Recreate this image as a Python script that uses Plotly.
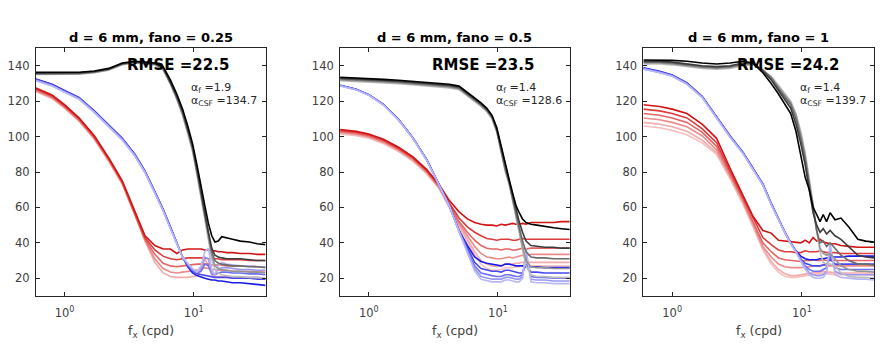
import math
import plotly.graph_objects as go

# spatial frequency grid (cpd), shared by all curves
freq = [0.6, 0.8, 1.0, 1.3, 1.7, 2.2, 2.8, 3.5, 4.2, 5.0, 5.8, 6.6, 7.4, 8.2, 9.0,
        9.8, 10.6, 11.4, 12.2, 13.0, 13.8, 14.6, 15.5, 16.5, 18, 20, 23, 27, 31, 36]

# ---- panel 1: fano = 0.25
p1_black = [136.3, 136.3, 136.2, 136.3, 137.0, 138.5, 141.5, 142.5, 142.0, 141.5, 139.5, 132.0, 124.0, 115.5, 106.0, 96.0, 84.0, 73.0, 61.0, 51.0, 44.0, 40.5, 41.0, 43.5, 43.0, 42.0, 41.0, 40.5, 39.5, 39.0]
p1_gray1 = [135.8, 135.8, 135.8, 136.0, 136.7, 138.2, 141.2, 142.2, 141.8, 141.2, 139.0, 131.0, 123.0, 114.5, 104.5, 94.5, 82.0, 70.0, 57.0, 46.0, 37.0, 33.0, 32.0, 31.5, 31.0, 31.0, 31.0, 30.5, 30.0, 30.0]
p1_gray2 = [135.5, 135.5, 135.5, 135.7, 136.5, 138.0, 141.0, 142.0, 141.5, 141.0, 138.5, 130.5, 122.0, 113.5, 103.5, 93.5, 80.5, 68.0, 55.0, 44.0, 35.0, 30.0, 28.5, 28.0, 27.5, 27.0, 27.0, 26.5, 26.5, 26.0]
p1_gray3 = [135.2, 135.2, 135.2, 135.5, 136.2, 137.8, 140.8, 141.8, 141.3, 140.8, 138.0, 130.0, 121.5, 112.5, 102.5, 92.5, 79.5, 66.5, 53.0, 42.0, 33.0, 27.0, 25.5, 25.0, 24.5, 24.0, 24.0, 23.5, 23.5, 23.0]
p1_gray4 = [135.0, 135.0, 135.0, 135.2, 136.0, 137.5, 140.5, 141.5, 141.0, 140.5, 137.5, 129.5, 121.0, 112.0, 101.5, 91.5, 78.5, 65.0, 52.0, 41.0, 31.0, 25.0, 23.0, 22.0, 21.5, 21.0, 21.0, 20.5, 20.5, 20.0]

p1_blue1 = [132.5, 129.5, 126.0, 122.0, 114.5, 106.5, 99.0, 90.0, 80.5, 69.0, 59.0, 49.0, 40.0, 32.0, 26.5, 23.0, 21.5, 20.5, 20.0, 19.5, 19.0, 19.0, 18.5, 18.5, 18.0, 17.5, 17.5, 17.0, 16.5, 16.0]
p1_blue2 = [132.2, 129.2, 125.8, 121.8, 114.2, 106.2, 98.7, 89.7, 80.2, 68.8, 58.8, 48.8, 40.0, 32.0, 27.0, 24.0, 22.5, 22.0, 21.5, 21.0, 21.0, 20.5, 20.5, 20.5, 20.5, 20.0, 20.0, 20.0, 19.5, 19.5]
p1_blue3 = [132.0, 129.0, 125.5, 121.5, 114.0, 106.0, 98.5, 89.5, 80.0, 68.5, 58.5, 48.5, 39.8, 32.0, 27.5, 24.5, 23.0, 24.0, 28.0, 27.0, 22.5, 22.0, 23.0, 23.5, 23.5, 23.0, 23.0, 22.5, 22.5, 22.0]
p1_blue4 = [131.7, 128.7, 125.2, 121.2, 113.8, 105.8, 98.2, 89.2, 79.8, 68.2, 58.2, 48.2, 39.6, 32.0, 28.0, 25.0, 23.5, 26.0, 32.0, 31.0, 23.0, 22.0, 25.0, 26.0, 26.0, 25.5, 25.0, 25.0, 24.5, 24.5]
p1_blue5 = [131.5, 128.5, 125.0, 121.0, 113.5, 105.5, 98.0, 89.0, 79.5, 68.0, 58.0, 48.0, 39.5, 32.0, 28.5, 25.5, 23.5, 27.0, 35.0, 37.0, 25.0, 22.0, 27.0, 29.0, 28.0, 27.5, 27.0, 27.0, 26.5, 26.5]

p1_red1 = [127.5, 123.5, 118.0, 110.5, 100.5, 88.0, 75.0, 58.0, 44.0, 38.5, 36.5, 36.5, 34.0, 36.0, 36.5, 36.5, 36.5, 36.5, 36.0, 36.0, 35.5, 35.5, 35.0, 35.0, 34.5, 34.5, 34.0, 34.0, 33.5, 33.5]
p1_red2 = [127.0, 123.0, 117.5, 110.0, 100.0, 87.5, 74.5, 57.5, 43.0, 36.0, 32.5, 31.0, 30.5, 31.0, 31.5, 31.5, 31.5, 31.5, 31.5, 31.0, 31.0, 31.0, 31.0, 30.5, 30.5, 30.5, 30.5, 30.0, 30.0, 30.0]
p1_red3 = [126.5, 122.5, 117.0, 109.5, 99.5, 87.0, 74.0, 57.0, 42.0, 33.5, 28.5, 27.0, 26.5, 27.0, 27.5, 28.0, 28.0, 28.0, 28.0, 28.0, 27.5, 27.5, 27.5, 27.5, 27.0, 27.0, 27.0, 27.0, 26.5, 26.5]
p1_red4 = [126.0, 122.0, 116.5, 109.0, 99.0, 86.5, 73.5, 56.5, 41.5, 31.0, 25.5, 23.5, 23.0, 23.5, 24.0, 24.5, 25.0, 25.0, 26.0, 25.5, 25.0, 25.0, 24.5, 24.5, 24.5, 24.0, 24.0, 24.0, 24.0, 23.5]
p1_red5 = [125.5, 121.5, 116.0, 108.5, 98.5, 86.0, 73.0, 56.0, 41.0, 29.0, 23.0, 21.0, 20.5, 20.5, 20.5, 21.0, 21.5, 24.0, 31.0, 27.0, 22.0, 21.0, 21.0, 21.0, 21.0, 20.5, 20.5, 20.5, 20.5, 20.0]

# ---- panel 2: fano = 0.5
p2_black = [133.5, 133.2, 132.8, 132.3, 131.8, 131.2, 130.5, 130.0, 129.5, 128.5, 125.0, 122.0, 119.0, 116.0, 112.0, 105.0, 94.0, 84.0, 76.0, 68.0, 61.0, 57.0, 53.5, 51.5, 50.5, 50.0, 49.5, 48.5, 48.0, 47.5]
p2_gray1 = [133.0, 132.7, 132.3, 131.8, 131.3, 130.7, 130.0, 129.5, 129.0, 128.0, 124.5, 121.5, 118.5, 115.5, 111.5, 104.0, 93.0, 83.0, 75.0, 67.0, 59.0, 52.0, 46.0, 41.0, 38.5, 38.0, 37.5, 37.5, 37.0, 37.0]
p2_gray2 = [132.5, 132.2, 131.8, 131.3, 130.8, 130.2, 129.5, 129.0, 128.5, 127.5, 124.0, 121.0, 118.0, 115.0, 111.0, 103.5, 92.0, 82.0, 74.0, 66.0, 57.0, 49.0, 41.0, 35.0, 32.0, 31.5, 31.5, 31.0, 31.0, 31.0]
p2_gray3 = [132.0, 131.7, 131.3, 130.8, 130.3, 129.7, 129.0, 128.5, 128.0, 127.0, 123.5, 120.5, 117.5, 114.5, 110.5, 103.0, 91.5, 81.0, 74.0, 65.0, 56.0, 47.0, 38.0, 30.0, 26.5, 26.0, 26.0, 25.5, 25.5, 25.5]
p2_gray4 = [131.5, 131.2, 130.8, 130.3, 129.8, 129.2, 128.5, 128.0, 127.5, 126.5, 123.0, 120.0, 117.0, 114.0, 110.0, 102.5, 91.0, 80.0, 73.0, 64.0, 55.0, 46.0, 36.0, 27.0, 22.0, 21.0, 21.0, 20.5, 20.5, 20.5]

p2_blue1 = [129.0, 126.7, 123.7, 118.2, 109.7, 99.2, 87.2, 73.2, 61.2, 47.0, 38.5, 32.0, 29.5, 28.5, 28.0, 27.5, 27.0, 28.0, 28.0, 27.5, 27.0, 27.0, 27.0, 26.5, 26.5, 26.5, 26.0, 26.0, 26.0, 26.0]
p2_blue2 = [128.9, 126.6, 123.6, 118.1, 109.6, 99.1, 87.1, 73.1, 61.1, 46.8, 37.0, 29.0, 25.5, 24.5, 24.0, 24.0, 23.5, 24.5, 24.5, 24.0, 23.5, 23.0, 23.0, 28.0, 23.5, 23.5, 23.0, 23.0, 23.0, 23.0]
p2_blue3 = [128.8, 126.5, 123.5, 118.0, 109.5, 99.0, 87.0, 73.0, 61.0, 46.6, 36.0, 27.0, 23.0, 22.0, 21.5, 21.0, 21.0, 22.0, 22.0, 21.5, 21.0, 21.0, 22.0, 32.0, 21.0, 20.5, 20.5, 20.0, 20.0, 20.0]
p2_blue4 = [128.7, 126.4, 123.4, 117.9, 109.4, 98.9, 86.9, 72.9, 60.9, 46.4, 35.0, 25.5, 21.0, 20.0, 19.5, 19.5, 19.5, 20.5, 20.5, 20.0, 19.5, 19.5, 21.0, 35.0, 19.5, 19.0, 19.0, 18.5, 18.5, 18.5]
p2_blue5 = [128.6, 126.3, 123.3, 117.8, 109.3, 98.8, 86.8, 72.8, 60.8, 46.2, 34.0, 24.0, 19.5, 18.5, 18.0, 18.0, 18.0, 19.0, 19.0, 18.5, 18.0, 18.0, 20.0, 37.0, 18.0, 17.5, 17.5, 17.0, 17.0, 17.0]

p2_red1 = [104.0, 103.0, 101.5, 98.5, 94.0, 88.5, 81.5, 73.0, 64.0, 57.5, 53.5, 51.5, 50.5, 50.0, 50.0, 49.5, 50.5, 50.0, 50.5, 51.0, 50.5, 50.5, 51.0, 50.5, 51.5, 51.5, 51.5, 51.5, 52.0, 52.0]
p2_red2 = [103.5, 102.5, 101.0, 98.0, 93.5, 88.0, 81.0, 72.5, 62.5, 54.0, 49.0, 46.0, 44.0, 42.5, 42.0, 41.5, 42.0, 42.0, 42.0, 41.5, 41.5, 42.0, 42.5, 42.0, 42.0, 42.0, 42.0, 42.0, 42.0, 42.0]
p2_red3 = [103.0, 102.0, 100.5, 97.5, 93.0, 87.5, 80.5, 72.0, 61.5, 52.0, 46.0, 41.5, 38.5, 37.0, 36.5, 36.5, 36.0, 36.5, 36.5, 36.0, 36.0, 36.5, 37.0, 36.5, 37.0, 37.0, 37.0, 37.0, 37.0, 37.0]
p2_red4 = [102.5, 101.5, 100.0, 97.0, 92.5, 87.0, 80.0, 71.5, 61.0, 51.0, 44.0, 38.0, 34.0, 32.0, 31.5, 31.0, 31.0, 31.5, 32.0, 31.5, 32.0, 32.5, 33.0, 33.0, 33.5, 33.5, 33.5, 33.5, 33.5, 33.5]
p2_red5 = [102.0, 101.0, 99.5, 96.5, 92.0, 86.5, 79.5, 71.0, 60.5, 50.0, 42.0, 35.0, 30.0, 28.0, 27.0, 26.5, 27.0, 28.0, 28.0, 28.0, 28.5, 28.5, 29.0, 29.0, 29.0, 29.0, 29.0, 29.0, 29.0, 29.0]
p2_red6 = [101.5, 100.5, 99.0, 96.0, 91.5, 86.0, 79.0, 70.5, 60.0, 49.0, 41.0, 33.0, 28.0, 25.5, 24.5, 24.5, 25.0, 26.0, 26.0, 26.0, 26.5, 26.5, 27.0, 27.0, 27.0, 27.0, 27.0, 27.0, 27.0, 27.0]

# ---- panel 3: fano = 1
p3_black = [143.2, 143.2, 143.0, 142.5, 141.5, 141.0, 141.5, 142.5, 141.5, 136.0, 130.0, 124.0, 118.5, 113.0, 103.0, 90.0, 77.0, 70.0, 60.0, 56.0, 52.0, 56.0, 52.0, 57.0, 53.0, 54.0, 49.0, 42.0, 41.0, 40.5]
p3_gray1 = [142.5, 142.5, 142.0, 141.0, 140.0, 139.5, 140.0, 141.5, 141.5, 137.0, 132.0, 126.0, 120.5, 116.0, 107.0, 96.0, 84.0, 70.0, 57.0, 50.0, 46.0, 48.0, 45.0, 47.0, 44.0, 42.0, 38.0, 33.0, 32.0, 31.5]
p3_gray2 = [142.0, 142.0, 141.5, 140.5, 139.5, 139.0, 139.5, 141.0, 141.5, 137.5, 133.0, 127.0, 122.0, 118.0, 110.0, 99.0, 87.0, 73.0, 59.0, 47.0, 40.0, 41.0, 38.0, 40.0, 37.0, 33.0, 30.0, 28.0, 28.0, 27.5]
p3_gray3 = [141.5, 141.5, 141.0, 140.0, 139.0, 138.5, 139.0, 140.5, 141.0, 137.5, 133.5, 128.0, 123.0, 119.0, 112.0, 101.0, 89.0, 75.0, 61.0, 47.0, 37.0, 34.0, 33.0, 34.0, 31.0, 27.0, 25.0, 24.0, 24.0, 23.5]
p3_gray4 = [141.0, 141.0, 140.5, 139.5, 138.5, 138.0, 138.5, 140.0, 140.5, 137.5, 134.0, 129.0, 124.0, 120.0, 113.0, 103.0, 91.0, 77.0, 62.0, 47.0, 35.0, 29.0, 28.0, 28.0, 27.0, 23.0, 21.0, 20.5, 20.5, 20.0]

p3_blue1 = [138.8, 136.8, 134.8, 130.3, 122.8, 111.3, 100.3, 91.3, 82.3, 73.3, 62.3, 53.3, 46.0, 40.0, 35.5, 32.5, 31.0, 30.5, 30.5, 30.5, 31.0, 31.0, 31.5, 32.0, 32.0, 32.0, 32.5, 32.5, 32.5, 32.5]
p3_blue2 = [138.6, 136.6, 134.6, 130.1, 122.6, 111.1, 100.1, 91.1, 82.1, 73.1, 62.1, 53.1, 46.0, 40.0, 35.5, 31.0, 28.5, 27.5, 27.0, 27.0, 27.0, 27.5, 28.0, 31.0, 28.0, 28.0, 28.0, 28.0, 28.0, 28.0]
p3_blue3 = [138.4, 136.4, 134.4, 129.9, 122.4, 110.9, 99.9, 90.9, 81.9, 72.9, 61.9, 52.9, 45.8, 39.8, 35.2, 30.5, 27.0, 25.0, 24.0, 24.0, 24.0, 25.0, 26.0, 34.0, 26.0, 25.0, 25.0, 25.0, 25.0, 25.0]
p3_blue4 = [138.2, 136.2, 134.2, 129.7, 122.2, 110.7, 99.7, 90.7, 81.7, 72.7, 61.7, 52.7, 45.6, 39.6, 35.0, 30.0, 26.0, 23.0, 22.0, 21.5, 21.5, 22.0, 24.0, 37.0, 24.0, 22.5, 22.0, 22.0, 22.0, 22.0]
p3_blue5 = [138.0, 136.0, 134.0, 129.5, 122.0, 110.5, 99.5, 90.5, 81.5, 72.5, 61.5, 52.5, 45.5, 39.5, 34.8, 29.5, 25.0, 22.0, 20.5, 20.0, 20.0, 20.5, 23.0, 40.0, 22.0, 20.5, 20.0, 19.5, 19.5, 19.0]

p3_red1 = [118.0, 117.0, 115.5, 113.0, 107.0, 99.0, 82.0, 67.0, 55.0, 47.0, 45.5, 41.5, 41.0, 40.5, 40.5, 40.0, 41.5, 40.0, 43.0, 41.0, 42.0, 40.5, 40.0, 39.5, 39.5, 38.5, 38.0, 37.5, 37.5, 37.5]
p3_red2 = [115.5, 114.5, 113.0, 110.5, 104.5, 96.5, 80.5, 66.0, 53.5, 43.0, 39.0, 36.0, 35.0, 35.0, 34.5, 34.5, 35.5, 35.0, 35.0, 35.0, 35.5, 35.0, 34.5, 34.5, 34.5, 34.0, 34.0, 34.0, 34.0, 34.0]
p3_red3 = [113.0, 112.0, 110.5, 108.0, 102.5, 94.5, 79.0, 65.0, 52.0, 40.0, 35.0, 31.5, 30.5, 30.0, 29.5, 29.5, 30.0, 30.0, 30.5, 30.0, 30.0, 30.5, 30.0, 30.0, 30.0, 30.0, 30.0, 30.0, 30.0, 30.0]
p3_red4 = [110.5, 109.5, 108.0, 105.5, 100.5, 92.5, 78.0, 64.0, 51.0, 38.0, 32.0, 28.0, 26.5, 26.0, 26.0, 26.0, 26.5, 26.5, 27.0, 27.0, 27.0, 27.5, 27.0, 27.0, 27.0, 27.0, 27.0, 27.0, 27.0, 27.0]
p3_red5 = [108.0, 107.0, 105.5, 103.0, 98.0, 91.0, 77.0, 63.0, 50.0, 37.0, 29.5, 25.0, 22.5, 21.5, 21.5, 22.0, 22.5, 23.0, 23.0, 23.5, 23.5, 24.0, 23.5, 23.5, 23.0, 23.0, 23.0, 23.0, 23.0, 23.0]
p3_red6 = [106.0, 105.0, 103.5, 101.0, 96.5, 90.0, 76.0, 62.0, 49.0, 36.0, 28.0, 23.5, 21.0, 20.5, 20.5, 21.0, 21.5, 22.0, 22.0, 22.5, 22.5, 23.0, 22.5, 22.5, 22.0, 22.0, 22.0, 22.0, 22.0, 21.5]

titles = ["d = 6 mm, fano = 0.25", "d = 6 mm, fano = 0.5", "d = 6 mm, fano = 1"]
rmse = ["22.5", "23.5", "24.2"]
alpha_f = ["1.9", "1.4", "1.4"]
alpha_csf = ["134.7", "128.6", "139.7"]

# colours, listed dark -> light
red_cols = ["#d21414", "#dc3c3c", "#e46464", "#eb8a8a", "#f2aaaa", "#f6c0c0"]
blue_cols = ["#1c1ce8", "#4848ec", "#7070ee", "#9898f2", "#b8b8f6"]
gray_cols = ["#000000", "#3c3c3c", "#6a6a6a", "#959595", "#bdbdbd"]

# curves per family, listed dark -> light
panels = [
    dict(red=[p1_red1, p1_red2, p1_red3, p1_red4, p1_red5],
         blue=[p1_blue1, p1_blue2, p1_blue3, p1_blue4, p1_blue5],
         gray=[p1_black, p1_gray1, p1_gray2, p1_gray3, p1_gray4]),
    dict(red=[p2_red1, p2_red2, p2_red3, p2_red4, p2_red5, p2_red6],
         blue=[p2_blue1, p2_blue2, p2_blue3, p2_blue4, p2_blue5],
         gray=[p2_black, p2_gray1, p2_gray2, p2_gray3, p2_gray4]),
    dict(red=[p3_red1, p3_red2, p3_red3, p3_red4, p3_red5, p3_red6],
         blue=[p3_blue1, p3_blue2, p3_blue3, p3_blue4, p3_blue5],
         gray=[p3_black, p3_gray1, p3_gray2, p3_gray3, p3_gray4]),
]

# the page body has an 8px margin, so the figure is drawn 8px smaller and
# all screen positions below are shifted by that amount
PAD = 8
W, H = 885 - PAD, 348 - PAD


def px(x):
    return (x - PAD) / W


def py(y):
    return 1 - (y - PAD) / H


x_dom = [(31, 262), (337, 568), (642, 874)]
y_top, y_bot = 48, 296


def add_family(fig, curves, cols, ax, reverse):
    pairs = list(zip(curves, cols))
    if reverse:
        pairs = pairs[::-1]
    for ys, c in pairs:
        fig.add_trace(go.Scatter(x=freq, y=ys, mode="lines", line=dict(color=c, width=1.6),
                                 xaxis="x" + ax, yaxis="y" + ax, hoverinfo="skip"))


fig = go.Figure()
for i, p in enumerate(panels):
    ax = "" if i == 0 else str(i + 1)
    add_family(fig, p["red"], red_cols, ax, reverse=True)     # dark red on top
    add_family(fig, p["blue"], blue_cols, ax, reverse=False)  # lavender on top
    add_family(fig, p["gray"], gray_cols, ax, reverse=True)   # black on top

axis_font = dict(family="DejaVu Sans", size=11.5, color="#404040")
layout = dict(
    width=W, height=H, margin=dict(l=0, r=0, t=0, b=0),
    paper_bgcolor="white", plot_bgcolor="white", showlegend=False,
    font=dict(family="DejaVu Sans", color="#262626"),
)
annotations = []
for i in range(3):
    ax = "" if i == 0 else str(i + 1)
    x0, x1 = x_dom[i]
    layout["xaxis" + ax] = dict(
        type="log", range=[math.log10(0.6), math.log10(36)],
        domain=[px(x0), px(x1)], anchor="y" + ax,
        tickvals=[1, 10], ticktext=["10<sup>0</sup>", "10<sup>1</sup>"],
        ticks="inside", ticklen=4, tickcolor="#262626", ticklabelstandoff=6,
        showline=True, linecolor="#262626", linewidth=1, mirror="ticks",
        showgrid=False, zeroline=False, tickfont=axis_font,
    )
    layout["yaxis" + ax] = dict(
        range=[10, 150], domain=[py(y_bot), py(y_top)], anchor="x" + ax,
        tickvals=[20, 40, 60, 80, 100, 120, 140],
        ticks="inside", ticklen=4, tickcolor="#262626", ticklabelstandoff=3,
        showline=True, linecolor="#262626", linewidth=1, mirror="ticks",
        showgrid=False, zeroline=False, tickfont=axis_font,
    )
    cx = (x0 + x1) / 2
    annotations.append(dict(text="<b>" + titles[i] + "</b>", x=px(cx), y=py(37),
                            xref="paper", yref="paper", showarrow=False,
                            xanchor="center", yanchor="middle",
                            font=dict(size=13, color="#000000")))
    annotations.append(dict(text="f<sub>x</sub> (cpd)", x=px(cx), y=py(331),
                            xref="paper", yref="paper", showarrow=False,
                            xanchor="center", yanchor="middle",
                            font=dict(size=12.5, color="#404040")))
    rx = [174, 481, 787][i]
    annotations.append(dict(text="<b>RMSE =" + rmse[i] + "</b>", x=px(rx), y=py(65),
                            xref="paper", yref="paper", showarrow=False,
                            xanchor="center", yanchor="middle",
                            font=dict(size=15, color="#000000")))
    ax_left = [185, 492, 797][i]
    annotations.append(dict(text="α<sub>f</sub> =" + alpha_f[i], x=px(ax_left), y=py(88),
                            xref="paper", yref="paper", showarrow=False,
                            xanchor="left", yanchor="middle",
                            font=dict(size=11, color="#262626")))
    annotations.append(dict(text="α<sub>CSF</sub> =" + alpha_csf[i], x=px(ax_left), y=py(101),
                            xref="paper", yref="paper", showarrow=False,
                            xanchor="left", yanchor="middle",
                            font=dict(size=11, color="#262626")))
layout["annotations"] = annotations

fig.update_layout(**layout)
fig.write_html("out.html")
